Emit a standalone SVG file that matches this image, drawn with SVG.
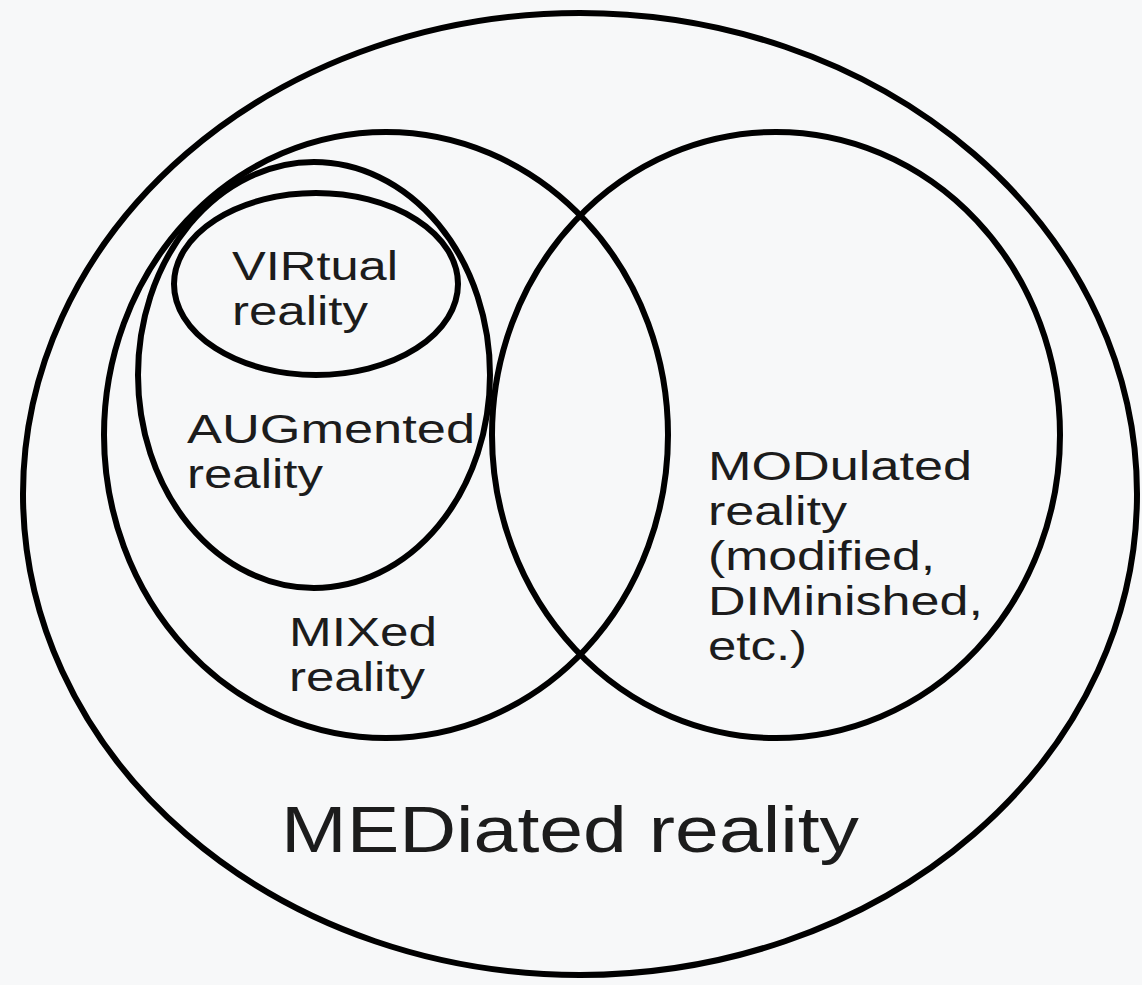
<svg xmlns="http://www.w3.org/2000/svg" width="1142" height="985" viewBox="0 0 1142 985">
<style>
.ring{fill:none;stroke:#000;stroke-width:6}
.lbl{font-family:"Liberation Sans",Arial,sans-serif;font-size:40px;fill:#1c1c1c}
.big{font-family:"Liberation Sans",Arial,sans-serif;font-size:64px;fill:#1c1c1c}
</style>
<rect width="1142" height="985" fill="#f7f8f9"/>
<g id="mediated">
<ellipse class="ring" cx="580" cy="494" rx="557" ry="481"/>
<text class="big" x="281" y="852" textLength="578" lengthAdjust="spacingAndGlyphs">MEDiated reality</text>
</g>
<g id="mixed">
<ellipse class="ring" cx="386" cy="435" rx="282" ry="303"/>
<text class="lbl"><tspan x="289" y="646" textLength="148" lengthAdjust="spacingAndGlyphs">MIXed</tspan><tspan x="289" y="691" textLength="136" lengthAdjust="spacingAndGlyphs">reality</tspan></text>
</g>
<g id="modulated">
<ellipse class="ring" cx="776" cy="435" rx="284" ry="303"/>
<text class="lbl"><tspan x="708" y="480" textLength="264" lengthAdjust="spacingAndGlyphs">MODulated</tspan><tspan x="708" y="525" textLength="139" lengthAdjust="spacingAndGlyphs">reality</tspan><tspan x="708" y="570" textLength="227" lengthAdjust="spacingAndGlyphs">(modified,</tspan><tspan x="708" y="615" textLength="275" lengthAdjust="spacingAndGlyphs">DIMinished,</tspan><tspan x="708" y="660" textLength="99" lengthAdjust="spacingAndGlyphs">etc.)</tspan></text>
</g>
<g id="augmented">
<ellipse class="ring" cx="314" cy="375" rx="176" ry="213"/>
<text class="lbl"><tspan x="187" y="443" textLength="288" lengthAdjust="spacingAndGlyphs">AUGmented</tspan><tspan x="187" y="488" textLength="136" lengthAdjust="spacingAndGlyphs">reality</tspan></text>
</g>
<g id="virtual">
<ellipse class="ring" cx="316" cy="284" rx="142" ry="91"/>
<text class="lbl"><tspan x="232" y="280" textLength="166" lengthAdjust="spacingAndGlyphs">VIRtual</tspan><tspan x="232" y="325" textLength="136" lengthAdjust="spacingAndGlyphs">reality</tspan></text>
</g>
<g id="connectors"></g>
</svg>
